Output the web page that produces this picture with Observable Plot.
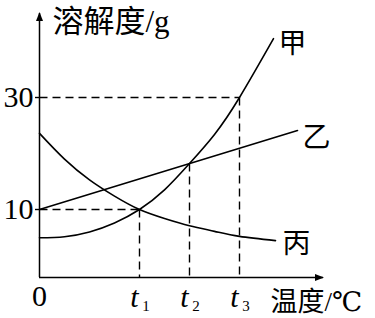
<!DOCTYPE html>
<html><head><meta charset="utf-8">
<script src="https://cdn.jsdelivr.net/npm/d3@7"></script>
<script src="https://cdn.jsdelivr.net/npm/@observablehq/plot@0.6"></script>
<style>body{margin:0;background:#fff}</style>
</head><body><div id="chart"></div>
<script>
// ---- data ----
const seriesNames = ["甲", "乙", "丙"];
const jiaX = [0, 0.5, 1, 1.5, 2, 2.5, 3, 3.5, 4, 4.68];
const jiaY = [4.95, 5.15, 6.0, 7.6, 10, 13.5, 18.2, 23.4, 30, 40.5];
const yiX = [0, 5.16];
const yiY = [10, 24.1];
const bingX = [0, 0.5, 1, 1.5, 2, 2.5, 3, 3.5, 4, 4.72];
const bingY = [23.6, 19, 15.3, 12.4, 10, 8.4, 7.1, 6.1, 5.2, 4.45];
const yTicks = [10, 30];
const tTicks = [2, 3, 4];
const tLabels = ["t", "t", "t"];
const tSubs = ["1", "2", "3"];
const tLevels = [10, 18.2, 30];
const xOrigin = [0];
const xOriginLabel = ["0"];
const yTitle = "溶解度/g";
const xTitle = "温度/℃";
const xMax = 5.68, yMin = -2.14, yMax = 45;

const toRows = (xs, ys, name) => xs.map((x, i) => ({x, y: ys[i], name}));
const series = [toRows(jiaX, jiaY, seriesNames[0]), toRows(yiX, yiY, seriesNames[1]), toRows(bingX, bingY, seriesNames[2])];
const rows = series.flat();
const ends = series.map(s => s[s.length - 1]);

const hLinks = yTicks.map(v => ({x1: 0, x2: tTicks[tLevels.indexOf(v)], y: v}));
const vLinks = tTicks.map((t, i) => ({x: t, y1: tLevels[i], y2: yMin}));

const serif = "'Liberation Serif', 'DejaVu Serif', 'Noto Sans CJK SC', serif";
const labelOffsets = [[5, 5], [5, 7], [7, 3.3]];

const plot = Plot.plot({
  width: 375, height: 318,
  marginLeft: 39, marginRight: 52, marginTop: 13, marginBottom: 41,
  x: {domain: [0, xMax]},
  y: {domain: [yMin, yMax]},
  style: {fontFamily: serif, color: "#000", background: "#fff"},
  marks: [
    Plot.link(hLinks, {x1: "x1", x2: "x2", y1: "y", y2: "y", stroke: "#000", strokeWidth: 1.4, strokeDasharray: "8,5"}),
    Plot.link(vLinks, {x1: "x", x2: "x", y1: "y1", y2: "y2", stroke: "#000", strokeWidth: 1.4, strokeDasharray: "8,5"}),
    Plot.line(rows, {x: "x", y: "y", z: "name", curve: "natural", stroke: "#000", strokeWidth: 1.6}),
    ...ends.map((d, i) => Plot.text([d], {x: "x", y: "y", text: "name", textAnchor: "start", dx: labelOffsets[i][0], dy: labelOffsets[i][1], fontSize: 28, fill: "#000"})),
    Plot.ruleX(xOrigin, {stroke: "#000", strokeWidth: 1.5, ariaDescription: "yaxisline"}),
    Plot.ruleY([yMin], {stroke: "#000", strokeWidth: 1.5, ariaDescription: "xaxisline"}),
    Plot.axisY({ticks: yTicks, tickSize: 4, tickPadding: 2, fontSize: 30, label: null, strokeWidth: 1.4}),
    Plot.axisX({ticks: xOrigin, tickFormat: (d, i) => xOriginLabel[i], tickSize: 0, tickPadding: 6.7, fontSize: 30, label: null}),
    Plot.axisX({ticks: tTicks, tickFormat: (d, i) => tLabels[i], tickSize: 0, tickPadding: 7.7, fontSize: 30, fontStyle: "italic", dx: -5, label: null}),
    Plot.axisX({ticks: tTicks, tickFormat: (d, i) => tSubs[i], tickSize: 0, tickPadding: 23, fontSize: 15, dx: 6.5, label: null}),
    Plot.text([yTitle], {frameAnchor: "top-left", textAnchor: "start", lineAnchor: "middle", dx: 13, dy: 8.3, fontSize: 31, fill: "#000"}),
    Plot.text([xTitle], {frameAnchor: "bottom-right", textAnchor: "start", lineAnchor: "middle", dx: -53, dy: 24.5, fontSize: 27, fill: "#000"})
  ]
});

// filled arrowheads on the axis lines
const svg = d3.select(plot);
const defs = svg.insert("defs", ":first-child");
defs.append("marker").attr("id", "axarrow").attr("markerUnits", "userSpaceOnUse")
  .attr("viewBox", "-10 -5 12 10").attr("refX", 0).attr("refY", 0)
  .attr("markerWidth", 12).attr("markerHeight", 10).attr("orient", "auto-start-reverse")
  .append("path").attr("d", "M1,0L-8,-3.5L-8,3.5Z").attr("fill", "#000");
svg.selectAll("g[aria-description=yaxisline] line").attr("marker-start", "url(#axarrow)");
svg.selectAll("g[aria-description=xaxisline] line").attr("marker-end", "url(#axarrow)");
document.getElementById("chart").append(plot);
</script>
</body></html>
